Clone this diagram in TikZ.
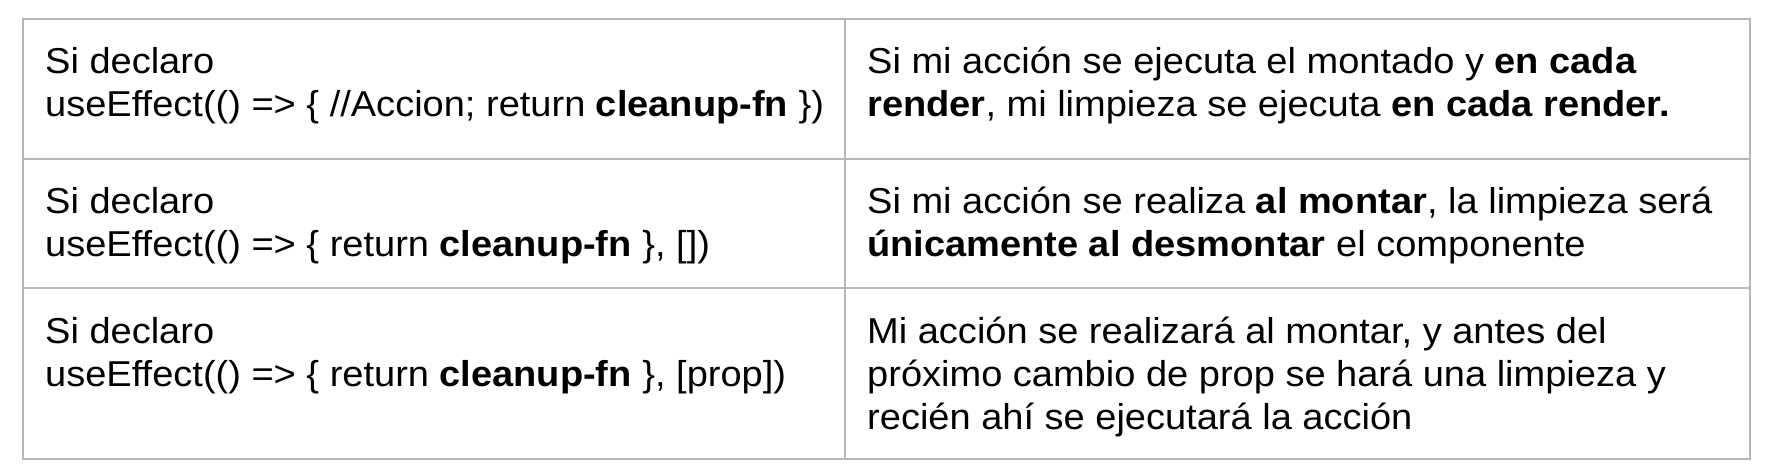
\documentclass[tikz,border=0pt]{standalone}
\usepackage{fontspec}
\setmainfont{Liberation Sans}[FakeStretch=1.056]
\definecolor{gridgray}{HTML}{B7B7B7}
\tikzset{
  grid/.style={draw=gridgray, line width=2pt},
  celltext/.style={anchor=base west, inner sep=0pt, font=\fontsize{36}{43}\selectfont, text=black}
}
\begin{document}
\begin{tikzpicture}[x=1pt,y=-1pt]
\useasboundingbox (0,0) rectangle (1766,476);
% table grid
\draw[grid] (22.7,19) rectangle (1750,459);
\draw[grid] (845,19) -- (845,459);
\draw[grid] (22.7,159) -- (1750,159);
\draw[grid] (22.7,288) -- (1750,288);
% left column
\node[celltext] (l1a) at (45,74) {Si declaro};
\node[celltext] (l1b) at (45,117) {useEffect(() => \{ //Accion; return \textbf{cleanup-fn} \})};
\node[celltext] (l2a) at (45,213) {Si declaro};
\node[celltext] (l2b) at (45,256) {useEffect(() => \{ return \textbf{cleanup-fn} \}, [])};
\node[celltext] (l3a) at (45,343) {Si declaro};
\node[celltext] (l3b) at (45,386) {useEffect(() => \{ return \textbf{cleanup-fn} \}, [prop])};
% right column
\node[celltext] (r1a) at (867,74) {Si mi acción se ejecuta el montado y \textbf{en cada}};
\node[celltext] (r1b) at (867,117) {\textbf{render}, mi limpieza se ejecuta \textbf{en cada render.}};
\node[celltext] (r2a) at (867,213) {Si mi acción se realiza \textbf{al montar}, la limpieza será};
\node[celltext] (r2b) at (867,256) {\textbf{únicamente al desmontar} el componente};
\node[celltext] (r3a) at (867,343) {Mi acción se realizará al montar, y antes del};
\node[celltext] (r3b) at (867,386) {próximo cambio de prop se hará una limpieza y};
\node[celltext] (r3c) at (867,429) {recién ahí se ejecutará la acción};
\end{tikzpicture}
\end{document}
